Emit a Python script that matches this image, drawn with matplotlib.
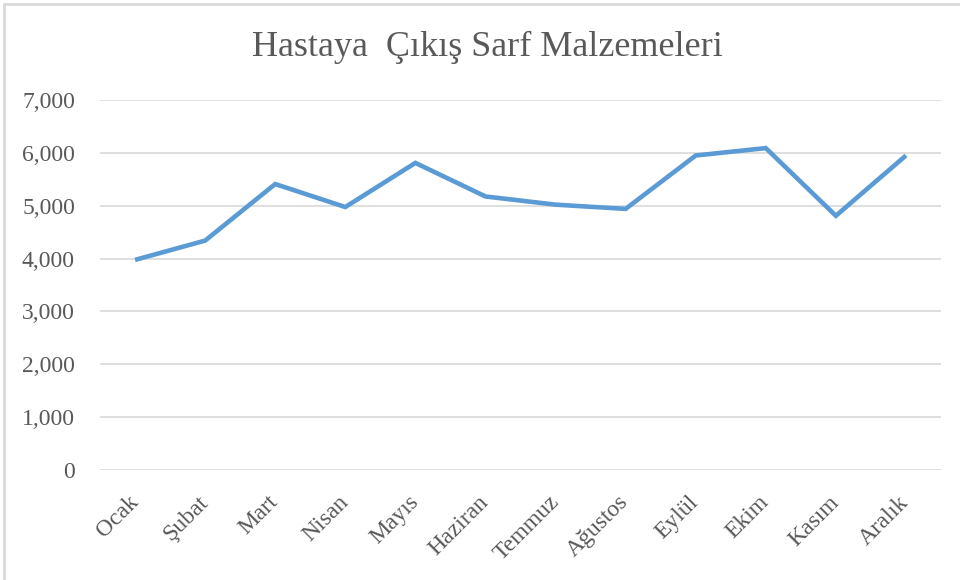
import matplotlib.pyplot as plt
from matplotlib.patches import Rectangle
from matplotlib.ticker import FuncFormatter

# Aylara göre hastaya çıkış sarf malzemeleri
months = ["Ocak", "Şubat", "Mart", "Nisan", "Mayıs", "Haziran",
          "Temmuz", "Ağustos", "Eylül", "Ekim", "Kasım", "Aralık"]
values = [3975, 4340, 5410, 4975, 5810, 5175,
          5020, 4940, 5950, 6090, 4810, 5950]
yticks = [0, 1000, 2000, 3000, 4000, 5000, 6000, 7000]

text_color = "#595959"
grid_color = "#d9d9d9"
line_color = "#5b9bd5"

plt.rcParams["font.family"] = ["Liberation Serif", "DejaVu Serif"]

fig = plt.figure(figsize=(9.6, 5.8), dpi=100)
ax = fig.add_axes([100 / 960, 110 / 580, 841 / 960, 370 / 580])

x = list(range(len(months)))
ax.plot(x, values, color=line_color, linewidth=3.3, solid_joinstyle="miter",
        solid_capstyle="butt", zorder=3)

ax.set_xlim(-0.5, len(months) - 0.5)
ax.set_ylim(0, 7000)
ax.set_yticks(yticks)
ax.yaxis.set_major_formatter(FuncFormatter(lambda v, p: f"{int(v):,}"))
ax.grid(axis="y", color=grid_color, linewidth=1.2)
ax.set_axisbelow(True)
for s in ax.spines.values():
    s.set_visible(False)

ax.set_xticks(x)
ax.set_xticklabels(months, rotation=45, ha="right", va="center",
                   rotation_mode="anchor")
ax.tick_params(axis="x", length=0, pad=21, labelsize=17, labelcolor=text_color)
ax.tick_params(axis="y", length=0, pad=18, labelsize=17, labelcolor=text_color)

fig.text(487 / 960, 1 - 47 / 580, "Hastaya  Çıkış Sarf Malzemeleri",
         ha="center", va="center", fontsize=26, color=text_color)

# ince gri çerçeve
fig.add_artist(Rectangle((4 / 960, -0.5), 2, 0.5 + 1 - 4 / 580,
                         transform=fig.transFigure, fill=False,
                         edgecolor=grid_color, linewidth=2))

fig.savefig("out.png", dpi=100)
